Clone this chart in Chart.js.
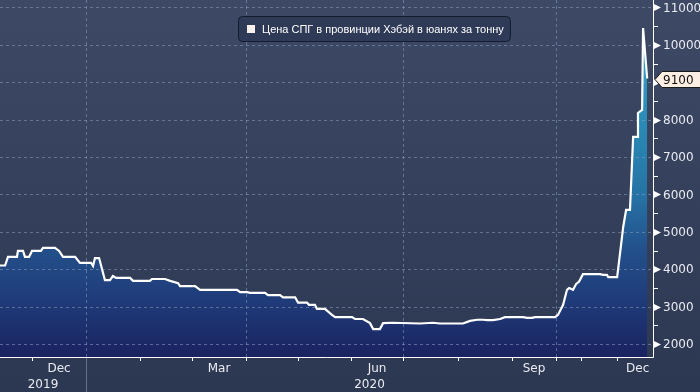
<!DOCTYPE html>
<html>
<head>
<meta charset="utf-8">
<script src="https://cdn.jsdelivr.net/npm/chart.js@4.4.1/dist/chart.umd.min.js"></script>
<style>
  html, body { margin: 0; padding: 0; background: #333f5a; }
  #contenedor { width: 700px; height: 392px; }
</style>
</head>
<body>
<div id="contenedor"><canvas id="grafico-spg" width="700" height="392"></canvas></div>
<script>
// posición en días de cotización desde el inicio del gráfico
const dias = [0, 2.1, 3.3, 7.0, 7.4, 9.5, 10.3, 12.0, 13.2, 16.9, 17.7, 22.7, 24.4, 26.0, 31.0, 33.0,
  37.6, 38.4, 39.2, 40.9, 43.3, 45.4, 46.6, 47.9, 53.7, 54.9, 61.9, 62.7, 68.1, 70.2, 73.5, 74.3,
  80.5, 82.6, 97.8, 99.1, 102.0, 103.2, 109.4, 110.6, 115.6, 116.8, 121.8, 123.0, 126.7, 127.5,
  130.0, 130.8, 134.1, 137.0, 138.3, 145.3, 146.5, 149.8, 152.7, 154.0, 156.8, 158.1, 162.2,
  173.4, 178.7, 181.6, 191.1, 194.0, 196.9, 199.4, 201.0, 203.5, 206.4, 208.4, 215.9, 217.5,
  219.6, 220.8, 229.1, 230.3, 232.4, 234.0, 234.9, 236.5, 237.8, 239.0, 240.6, 247.7, 248.9,
  250.5, 251.0, 254.7, 256.7, 257.2, 258.4, 260.0, 261.3, 262.9, 263.3, 265.0, 265.4, 267.1];

// precio del GNL en Hebei, yuanes por tonelada
const precios = [4100, 4100, 4330, 4330, 4490, 4490, 4330, 4330, 4490, 4490, 4570, 4570, 4490, 4330, 4330, 4170,
  4170, 4090, 4300, 4300, 3710, 3710, 3820, 3770, 3770, 3690, 3690, 3740, 3740, 3690, 3630, 3550,
  3550, 3450, 3450, 3390, 3390, 3370, 3370, 3310, 3310, 3250, 3250, 3110, 3110, 3050,
  3050, 2940, 2940, 2780, 2720, 2720, 2670, 2670, 2560, 2400, 2400, 2560, 2570,
  2550, 2570, 2550, 2550, 2620, 2650, 2650, 2640, 2640, 2670, 2720, 2720, 2700,
  2700, 2720, 2720, 2780, 3050, 3450, 3500, 3450, 3610, 3670, 3870, 3870, 3850,
  3850, 3790, 3790, 4860, 5130, 5590, 5590, 7540, 7540, 8180, 8260, 10450, 9100];

const etiquetaSerie = 'Цена СПГ в провинции Хэбэй в юанях за тонну';

const ticksY = [2000, 3000, 4000, 5000, 6000, 7000, 8000, 9000, 10000, 11000];

// inicio de cada mes (dic 2019 ... dic 2020, y ene 2021 fuera del gráfico)
const iniciosMes = [13.2, 35.5, 57.8, 79.3, 101.5, 123.0, 144.9, 166.3, 189.0, 211.3, 229.5, 239.8, 254.7, 271.6];
const etiquetasMes = ['Dec', '', '', 'Mar', '', '', 'Jun', '', '', 'Sep', '', '', 'Dec'];
const mesesRejilla = [1, 4, 7, 10]; // ene, abr, jul, oct
const anios = [['2019', 0, 1], ['2020', 1, null]];

const fuenteEjes = '12px "DejaVu Sans"';

const ejesPlugin = {
  id: 'ejesBloomberg',
  beforeDraw(chart) {
    const c = chart.ctx;
    const g = c.createLinearGradient(0, 0, 0, chart.height);
    g.addColorStop(0, '#3e4965');
    g.addColorStop(1, '#2c3852');
    c.save();
    c.fillStyle = g;
    c.fillRect(0, 0, chart.width, chart.height);
    c.restore();
  },
  beforeDatasetsDraw(chart) {
    const c = chart.ctx, a = chart.chartArea, x = chart.scales.x, y = chart.scales.y;
    c.save();
    c.strokeStyle = 'rgba(140,156,192,0.55)';
    c.lineWidth = 1;
    c.setLineDash([3, 3]);
    ticksY.forEach(function (v) {
      const py = Math.round(y.getPixelForValue(v)) + 0.5;
      c.beginPath(); c.moveTo(a.left, py); c.lineTo(a.right, py); c.stroke();
    });
    mesesRejilla.forEach(function (i) {
      const px = Math.round(x.getPixelForValue(iniciosMes[i])) + 0.5;
      c.beginPath(); c.moveTo(px, a.top); c.lineTo(px, a.bottom); c.stroke();
    });
    c.restore();
  },
  afterDraw(chart) {
    const c = chart.ctx, a = chart.chartArea, x = chart.scales.x, y = chart.scales.y;
    c.save();
    // ejes
    c.strokeStyle = '#ffffff';
    c.lineWidth = 1;
    c.beginPath();
    c.moveTo(a.right + 0.5, 0); c.lineTo(a.right + 0.5, a.bottom + 0.5);
    c.lineTo(0, a.bottom + 0.5);
    c.stroke();

    // ticks eje Y
    c.fillStyle = '#ffffff';
    ticksY.forEach(function (v) {
      const py = Math.round(y.getPixelForValue(v)) + 0.5;
      c.beginPath();
      c.moveTo(a.right + 1, py - 3.5); c.lineTo(a.right + 8, py); c.lineTo(a.right + 1, py + 3.5);
      c.closePath(); c.fill();
      const pm = Math.round(y.getPixelForValue(v + 500)) + 0.5;
      if (v + 500 < y.max) {
        c.beginPath(); c.moveTo(a.right, pm); c.lineTo(a.right + 5, pm); c.stroke();
      }
    });
    c.font = fuenteEjes;
    c.fillStyle = '#e9ebf1';
    c.textAlign = 'left';
    c.textBaseline = 'middle';
    ticksY.forEach(function (v) {
      c.fillText(String(v), a.right + 10, y.getPixelForValue(v) + 1);
    });

    // ticks eje X
    c.textAlign = 'center';
    for (let i = 0; i < iniciosMes.length - 1; i++) {
      const px = Math.round(x.getPixelForValue(iniciosMes[i])) + 0.5;
      c.beginPath(); c.moveTo(px, a.bottom); c.lineTo(px, a.bottom + 4); c.stroke();
      if (etiquetasMes[i]) {
        const centro = (x.getPixelForValue(iniciosMes[i]) + x.getPixelForValue(iniciosMes[i + 1])) / 2;
        c.fillText(etiquetasMes[i], centro, a.bottom + 12);
      }
    }
    // años
    const pxEne = Math.round(x.getPixelForValue(iniciosMes[1])) + 0.5;
    c.strokeStyle = '#66708a';
    c.beginPath(); c.moveTo(pxEne, a.bottom + 1); c.lineTo(pxEne, chart.height); c.stroke();
    anios.forEach(function (an) {
      const ini = an[1] === 0 ? a.left : x.getPixelForValue(iniciosMes[an[1]]);
      const fin = an[2] === null ? a.right : x.getPixelForValue(iniciosMes[an[2]]);
      c.fillText(an[0], (ini + fin) / 2, a.bottom + 28);
    });

    // leyenda
    c.font = '11px "Liberation Sans"';
    const anchoTexto = c.measureText(etiquetaSerie).width;
    const lx = 238.5, ly = 16.5, lw = anchoTexto + 30, lh = 25;
    c.beginPath();
    c.roundRect(lx, ly, lw, lh, 4);
    c.fillStyle = 'rgba(46,58,86,0.92)';
    c.fill();
    c.strokeStyle = '#131b2c';
    c.stroke();
    c.fillStyle = '#fbf1ec';
    c.fillRect(lx + 8.5, ly + 8.5, 8, 8);
    c.fillStyle = '#ffffff';
    c.textAlign = 'left';
    c.textBaseline = 'middle';
    c.fillText(etiquetaSerie, lx + 23.5, ly + 13);

    // último valor
    const ultimo = precios[precios.length - 1];
    const py = Math.round(y.getPixelForValue(ultimo)) + 0.5;
    c.beginPath();
    c.moveTo(a.right + 2, py);
    c.lineTo(a.right + 9, py - 8);
    c.lineTo(chart.width + 1, py - 8);
    c.lineTo(chart.width + 1, py + 8);
    c.lineTo(a.right + 9, py + 8);
    c.closePath();
    c.fillStyle = '#fdeee3';
    c.fill();
    c.strokeStyle = '#1a1a1a';
    c.stroke();
    c.fillStyle = '#111111';
    c.font = fuenteEjes;
    c.fillText(String(ultimo), a.right + 10, py + 1);
    c.restore();
  }
};

const ctx = document.getElementById('grafico-spg');
new Chart(ctx, {
  type: 'line',
  data: {
    datasets: [{
      label: etiquetaSerie,
      data: dias.map(function (d, i) { return { x: d, y: precios[i] }; }),
      borderColor: '#ffffff',
      borderWidth: 2.2,
      pointRadius: 0,
      tension: 0,
      fill: 'start',
      backgroundColor: function (context) {
        const a = context.chart.chartArea;
        if (!a) return '#1f3a78';
        const g = context.chart.ctx.createLinearGradient(0, a.top, 0, a.bottom);
        g.addColorStop(0, '#3aaed3');
        g.addColorStop(0.35, '#2a8ab5');
        g.addColorStop(0.55, '#2672a5');
        g.addColorStop(0.7, '#23508a');
        g.addColorStop(0.85, '#1f3a78');
        g.addColorStop(1, '#1a2360');
        return g;
      }
    }]
  },
  options: {
    responsive: false,
    animation: false,
    devicePixelRatio: 1,
    layout: { padding: { left: 0, top: 0, right: 47, bottom: 35 } },
    scales: {
      x: { type: 'linear', min: 0, max: 269.5, display: false },
      y: { type: 'linear', min: 1654, max: 11200, display: false }
    },
    plugins: {
      legend: { display: false },
      tooltip: { enabled: false },
      filler: { drawTime: 'beforeDatasetsDraw' }
    }
  },
  plugins: [ejesPlugin]
});
</script>
</body>
</html>
